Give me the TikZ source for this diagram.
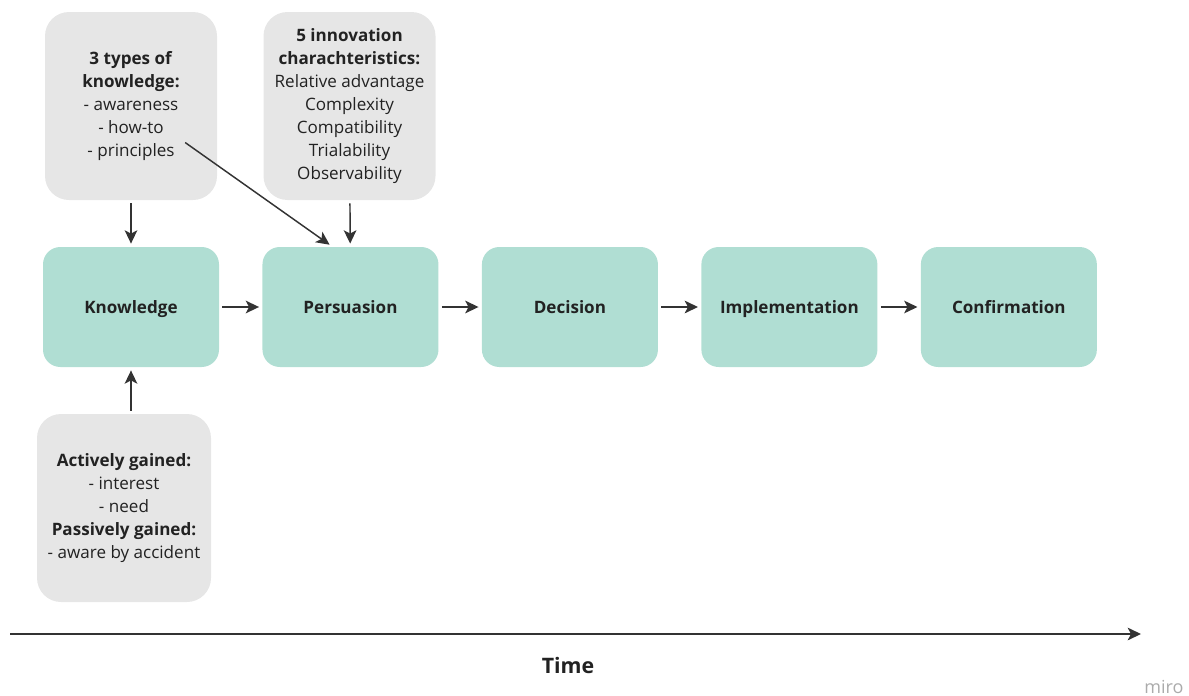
\documentclass[tikz,border=0pt]{standalone}
\usepackage{fontspec}
\setmainfont{Open Sans}
\usetikzlibrary{arrows.meta,positioning,calc}

\definecolor{stagegreen}{HTML}{B0DED3}
\definecolor{notegrey}{HTML}{E6E6E6}
\definecolor{inkdark}{HTML}{222222}
\definecolor{arrowdark}{HTML}{333333}

\begin{document}
\begin{tikzpicture}[x=0.75pt,y=-0.75pt,>={Stealth[length=10pt,width=9.5pt,inset=2.5pt]},
    line width=1.1pt,node distance=31.5pt,
    stage/.style={rectangle,rounded corners=13pt,fill=stagegreen,text=inkdark,
      minimum width=132pt,minimum height=90pt,text height=11pt,text depth=2pt,
      font=\fontsize{12.8}{17.3}\selectfont\bfseries},
    note/.style={rectangle,rounded corners=18pt,fill=notegrey,text=inkdark,align=center,
      minimum width=129pt,minimum height=141pt,font=\fontsize{12.8}{17.3}\selectfont}]
    \useasboundingbox (0,0) rectangle (1189,696);

    % the five stages
    \node[stage] (knowledge) at (131,307) {Knowledge};
    \node[stage] [right=of knowledge] (persuasion) {Persuasion};
    \node[stage] [right=of persuasion] (decision) {Decision};
    \node[stage] [right=of decision] (implementation) {Implementation};
    \node[stage] [right=of implementation] (confirmation) {Confirmation};

    % notes
    \node[note] (types) at (131,106) {\textbf{3 types of}\\\textbf{knowledge:}\\- awareness\\- how-to\\- principles};
    \node[note] (traits) at (349.5,106) {\textbf{5 innovation}\\\textbf{charachteristics:}\\Relative advantage\\Complexity\\Compatibility\\Trialability\\Observability};
    \node[note,minimum width=130.5pt] (gained) at (124,508) {\textbf{Actively gained:}\\- interest\\- need\\\textbf{Passively gained:}\\- aware by accident};

    \coordinate (howto) at ($(types.center)+(52,35)$);
    \coordinate (start) at (10,634);
    \coordinate (end) at (1141,634);

    \path[->,arrowdark,shorten >=2pt,shorten <=2pt]
    (types) edge (knowledge)
    (traits) edge (persuasion)
    (howto) edge ([xshift=-14pt]persuasion.north)
    (gained.north -| knowledge.south) edge (knowledge.south)
    (knowledge) edge (persuasion)
    (persuasion) edge (decision)
    (decision) edge (implementation)
    (implementation) edge (confirmation)
    ;

    % time axis
    \draw[->,arrowdark] (start) -- (end);
    \node[font=\fontsize{16}{19}\selectfont\bfseries,text=inkdark] (time) at (568,665) {Time};
    \node[font=\fontsize{13.5}{16}\selectfont,text=black!33] (miro) at (1164,687) {miro};
\end{tikzpicture}
\end{document}
